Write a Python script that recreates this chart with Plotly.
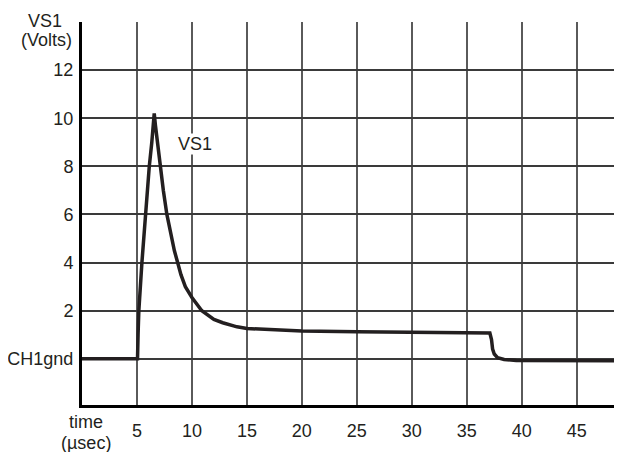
import plotly.graph_objects as go

# Data
time_us = [0, 5.05, 5.1, 5.17, 5.45, 5.75, 6.12, 6.35, 6.57, 6.68, 7.12, 7.4, 7.72,
           8.15, 8.4, 8.7, 9.0, 9.4, 10.0, 10.9, 11.5, 12.0, 12.8, 14.1, 15.0,
           17.5, 20.0, 25.0, 30.0, 35.0, 37.1, 37.25, 37.35, 37.5, 37.8, 38.4,
           39.5, 49.2]
vs1 = [0, 0, 1.0, 2.0, 4.0, 6.0, 8.0, 9.0, 10.2, 9.7, 8.0, 7.0, 6.0,
       5.0, 4.5, 4.0, 3.5, 3.0, 2.55, 2.0, 1.78, 1.64, 1.5, 1.33, 1.26,
       1.2, 1.16, 1.12, 1.11, 1.08, 1.07, 0.8, 0.4, 0.2, 0.05, -0.03,
       -0.07, -0.08]

x_ticks = [5, 10, 15, 20, 25, 30, 35, 40, 45]
x_tick_labels = ["5", "10", "15", "20", "25", "30", "35", "40", "45"]
y_ticks = [0, 2, 4, 6, 8, 10, 12, 14]
y_tick_labels = ["CH1gnd", "2", "4", "6", "8", "10", "12", ""]

ink = "#231f20"
font = dict(family="Liberation Sans, Arial, sans-serif", size=18, color=ink)

fig = go.Figure()
fig.add_trace(go.Scatter(x=time_us, y=vs1, mode="lines",
                         line=dict(color=ink, width=3.5), hoverinfo="skip",
                         showlegend=False))

# in-plot series label
fig.add_annotation(x=10.27, y=8.92, xref="x", yref="y", text="VS1",
                   showarrow=False, font=font, bgcolor="white", borderpad=0)

# axis titles (one annotation per line, to match the tight line spacing)
for txt, px, py in [("VS1", 45, 21.5), ("(Volts)", 46, 40),
                    ("time", 86, 422), ("(µsec)", 86, 443)]:
    fig.add_annotation(x=(px - 82) / 540, y=(405 - py) / 383,
                       xref="paper", yref="paper", text=txt, showarrow=False,
                       font=font, xanchor="center", yanchor="middle")

# page body has an 8px margin, so the figure is offset by (8, 8)
fig.update_layout(
    width=614, height=444,
    margin=dict(l=74, r=0, t=14, b=47),
    paper_bgcolor="white", plot_bgcolor="white",
    font=font,
    xaxis=dict(range=[0, 49.12], tickvals=x_ticks, ticktext=x_tick_labels,
               showgrid=True, gridcolor="#5a5a5a", gridwidth=1.5,
               zeroline=False, showline=True, linecolor="black", linewidth=3,
               ticks="", ticklabelstandoff=7, tickfont=font, fixedrange=True),
    yaxis=dict(range=[-1.92, 14.0], tickvals=y_ticks, ticktext=y_tick_labels,
               showgrid=True, gridcolor="#3a3a3a", gridwidth=1.5,
               zeroline=False, showline=True, linecolor="black", linewidth=3,
               ticks="", ticklabelstandoff=2, tickfont=font, fixedrange=True),
)

fig.write_html("out.html")
